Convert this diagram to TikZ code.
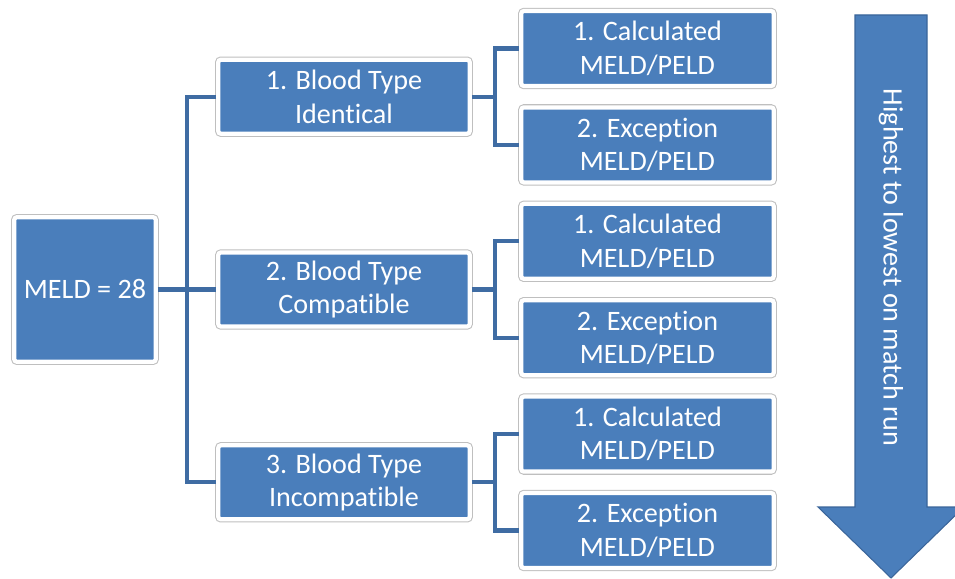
\documentclass[tikz,border=0pt]{standalone}
\usepackage{fontspec}
\setmainfont{Carlito}[Ligatures=NoCommon]
\usetikzlibrary{calc}
\definecolor{boxBlue}{HTML}{4A7EBB}
\definecolor{lineBlue}{HTML}{3F6CA3}
\definecolor{edgeBlue}{HTML}{3A659A}
\tikzset{blueBox/.style = {fill=boxBlue, draw=white, line width=2.4pt, rounded corners=1.5pt,
						 preaction={draw=black!25, line width=3.6pt},
						 text=white, align=center, inner sep=0pt,
						 font=\fontsize{16}{19}\selectfont}}
\tikzset{boxL2/.style = {blueBox, minimum width=5.03cm, minimum height=1.48cm}}
\tikzset{boxL3/.style = {blueBox, minimum width=5.05cm, minimum height=1.5cm}}
\tikzset{link/.style = {draw=lineBlue, line width=2.3pt, line join=miter}}

\begin{document}
\begin{tikzpicture}
		\useasboundingbox (0,0) rectangle (19.1,-11.58);

		% Coordinates
		\coordinate (trunk) at (3.74,0);
		\coordinate (bus) at (9.9,0);

		% Root
		\node[blueBox, minimum width=2.83cm, minimum height=2.89cm] (meld) at (1.70,-5.79) {MELD = 28};

		% Blood type
		\node[boxL2] (t1) at (6.88,-1.934) {1. Blood Type\\Identical};
		\node[boxL2] (t2) at (6.88,-5.79) {2. Blood Type\\Compatible};
		\node[boxL2] (t3) at (6.88,-9.646) {3. Blood Type\\Incompatible};

		% MELD/PELD
		\node[boxL3] (c1) at (12.95,-0.97) {1. Calculated\\MELD/PELD};
		\node[boxL3] (e1) at (12.95,-2.898) {2. Exception\\MELD/PELD};
		\node[boxL3] (c2) at (12.95,-4.826) {1. Calculated\\MELD/PELD};
		\node[boxL3] (e2) at (12.95,-6.754) {2. Exception\\MELD/PELD};
		\node[boxL3] (c3) at (12.95,-8.682) {1. Calculated\\MELD/PELD};
		\node[boxL3] (e3) at (12.95,-10.61) {2. Exception\\MELD/PELD};

		% Connectors
		\draw[link] (meld.east) -- (t2.west);
		\draw[link] (t1.west) -| (trunk |- t2.west) |- (t3.west);
		\foreach \i in {1,2,3}
		{
			\draw[link] (t\i.east) -- (bus |- t\i.east);
			\draw[link] (c\i.west) -| (bus |- t\i.east) |- (e\i.west);
		}

		% Arrow
		\draw[fill=boxBlue, draw=edgeBlue, line width=0.6pt, line join=miter]
			(17.10,-0.30) -- (18.54,-0.30) -- (18.54,-10.14) -- (19.28,-10.14)
			-- (17.82,-11.56) -- (16.36,-10.14) -- (17.10,-10.14) -- cycle;
		\node[rotate=-90, text=white, font=\fontsize{16}{19}\selectfont] (label) at (17.82,-5.35) {Highest to lowest on match run};
	\end{tikzpicture}
\end{document}
